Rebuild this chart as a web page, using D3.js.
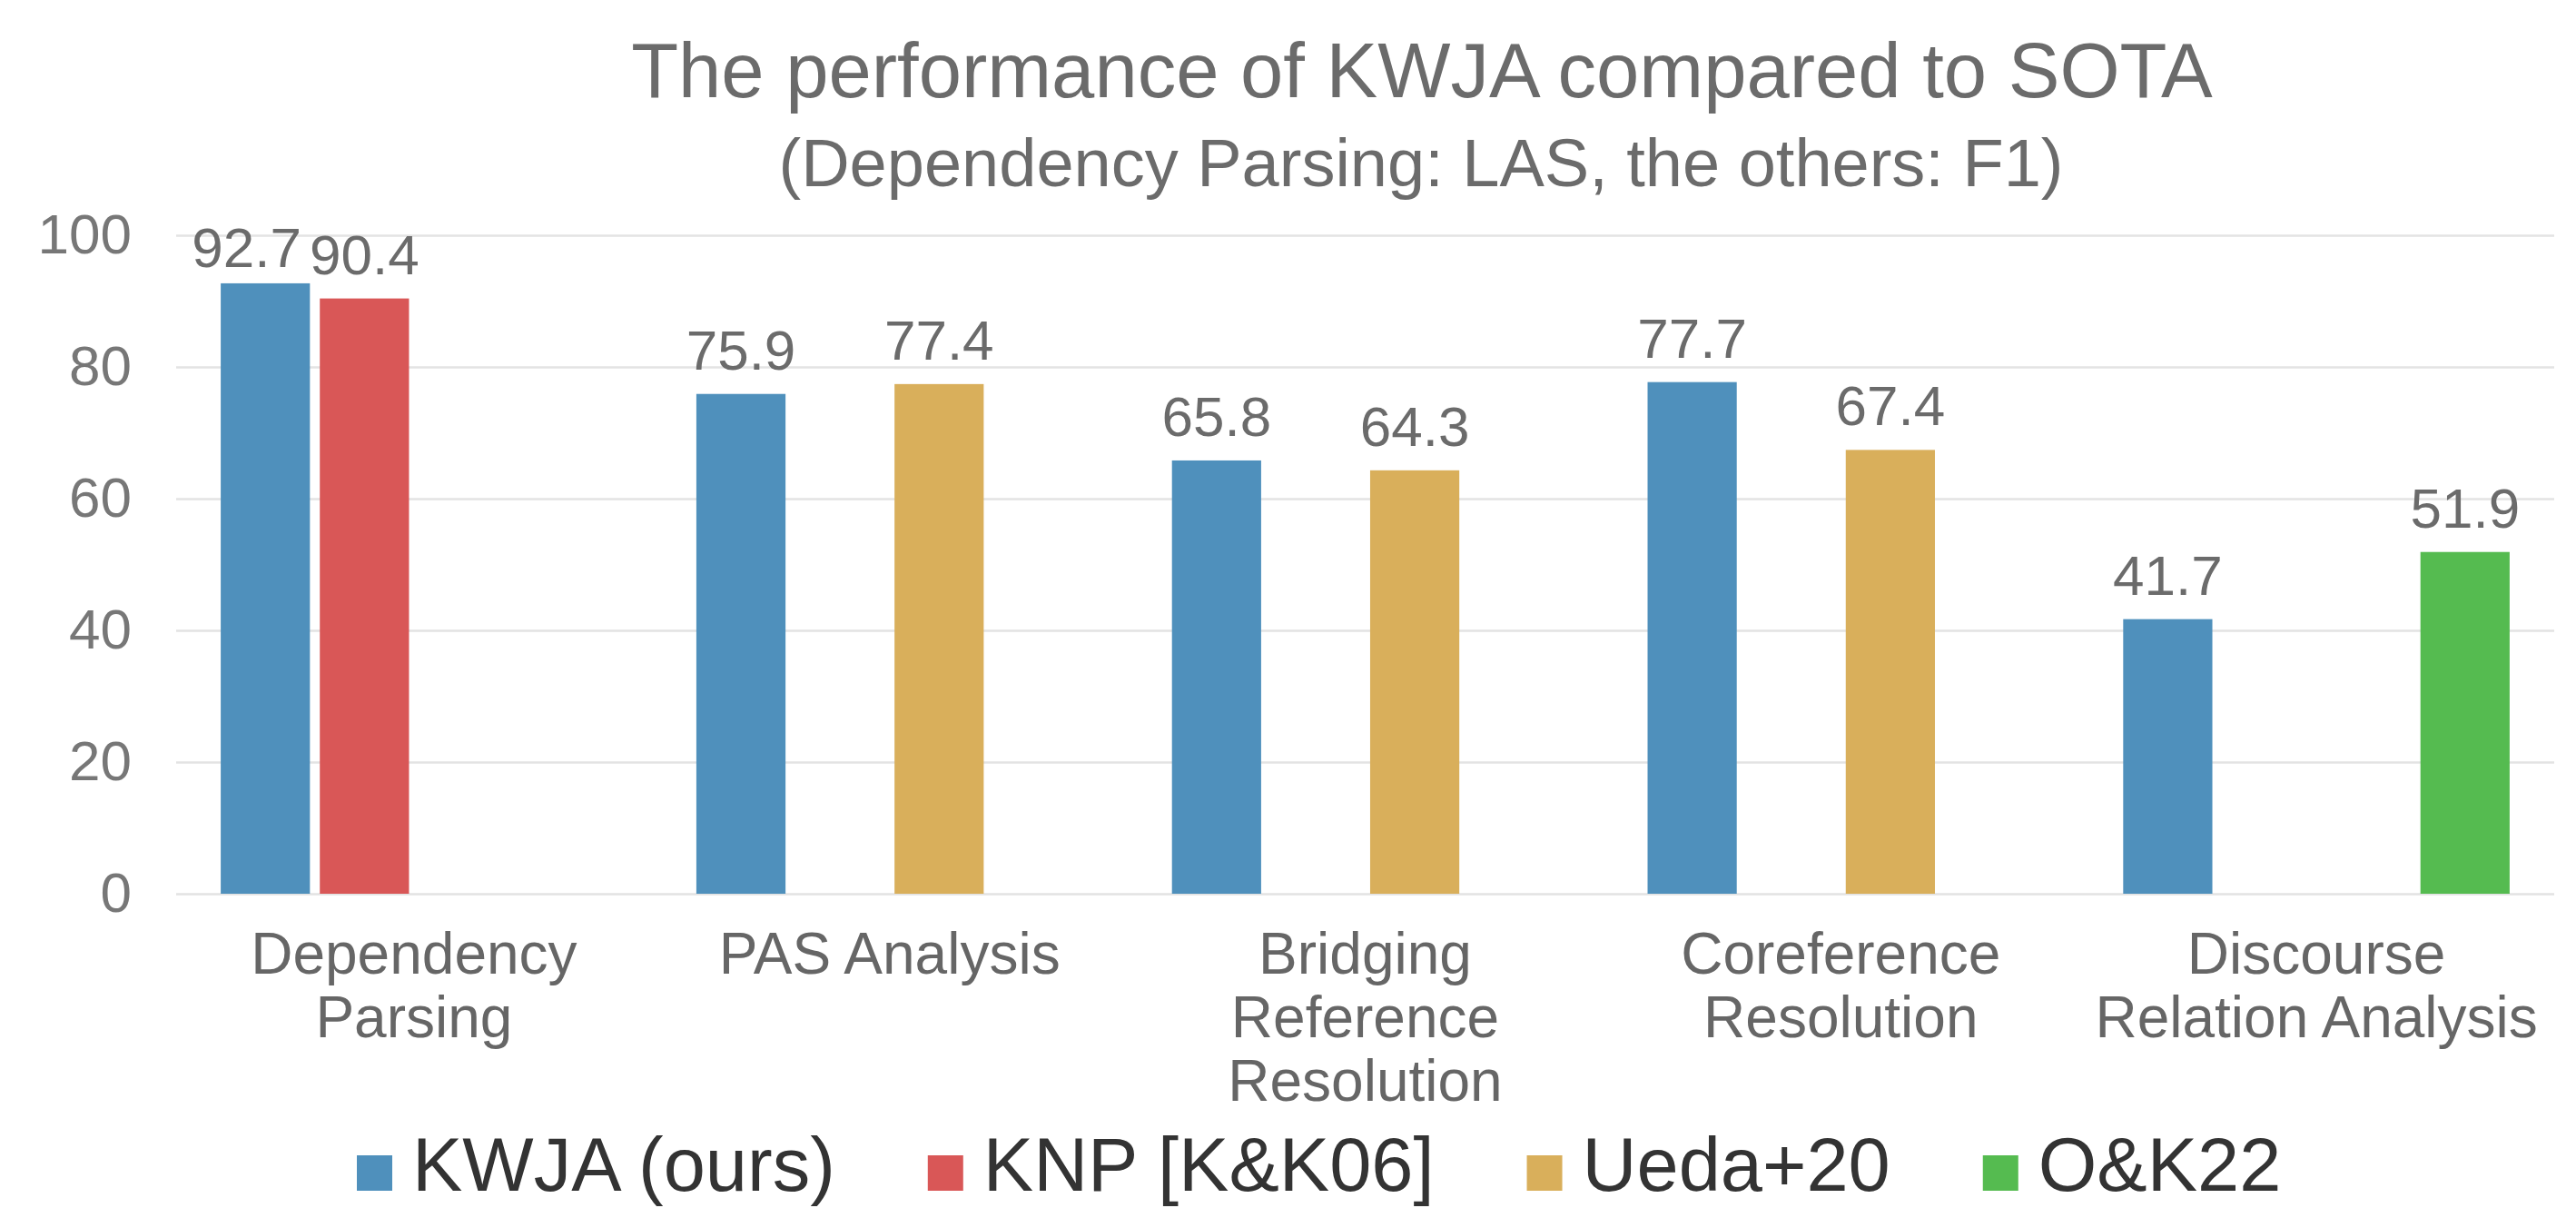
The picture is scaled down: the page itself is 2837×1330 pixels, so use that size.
<!DOCTYPE html>
<html>
<head>
<meta charset="utf-8">
<script src="https://cdn.jsdelivr.net/npm/d3@7"></script>
<style>
  body { margin: 0; background: #fff; }
  text { font-family: "Liberation Sans", Arial, sans-serif; }
</style>
</head>
<body>
<div id="chart"></div>
<script>
// data
var categories = ["Dependency\nParsing", "PAS Analysis", "Bridging\nReference\nResolution", "Coreference\nResolution", "Discourse\nRelation Analysis"];
var seriesNames = ["KWJA (ours)", "KNP [K&K06]", "Ueda+20", "O&K22"];
var kwja = [92.7, 75.9, 65.8, 77.7, 41.7];
var knp = [90.4, null, null, null, null];
var ueda = [null, 77.4, 64.3, 67.4, null];
var ok22 = [null, null, null, null, 51.9];
var yTicks = [0, 20, 40, 60, 80, 100];
var colors = ["#4f90bc", "#d95757", "#d9af5b", "#55bb50"];

var svgWidth = 2837;
var svgHeight = 1330;

var margin = { top: 259, right: 24, bottom: 346, left: 194 };
var width = svgWidth - margin.left - margin.right;
var height = svgHeight - margin.top - margin.bottom;

var svg = d3.select("#chart")
    .append("svg")
    .attr("width", svgWidth)
    .attr("height", svgHeight);

var chartGroup = svg.append("g")
    .attr("transform", `translate(${margin.left}, ${margin.top})`);

var allSeries = [kwja, knp, ueda, ok22];
var rows = [];
categories.forEach(function (c, i) {
    allSeries.forEach(function (s, j) {
        if (s[i] != null) rows.push({ cat: c, series: seriesNames[j], value: s[i], si: j });
    });
});

// scales
var x0 = d3.scaleBand().domain(categories).range([0, width]);
var x1 = d3.scaleBand().domain(seriesNames).range([0, x0.bandwidth()])
    .paddingInner(0.1).paddingOuter(0.45);
var y = d3.scaleLinear().domain([0, 100]).range([height, 0]);

// gridlines + y labels
var leftAxis = d3.axisLeft(y).tickValues(yTicks).tickSize(-width).tickPadding(49);
var yAxis = chartGroup.append("g").call(leftAxis);
yAxis.select(".domain").remove();
yAxis.selectAll("line").attr("stroke", "#e3e3e3").attr("stroke-width", 2.5);
yAxis.selectAll("text")
    .attr("font-size", "62px")
    .attr("fill", "#777777")
    .attr("dy", "0.32em")
    .style("font-family", "'Liberation Sans', Arial, sans-serif");

// bars
chartGroup.selectAll("rect.bar")
    .data(rows)
    .enter()
    .append("rect")
    .attr("class", "bar")
    .attr("x", d => x0(d.cat) + x1(d.series))
    .attr("y", d => y(d.value))
    .attr("width", x1.bandwidth())
    .attr("height", d => height - y(d.value))
    .attr("fill", d => colors[d.si]);

// value labels
var labels = chartGroup.selectAll("text.val")
    .data(rows)
    .enter()
    .append("text")
    .attr("class", "val")
    .attr("text-anchor", "middle")
    .attr("font-size", "62px")
    .attr("fill", "#6b6b6b")
    .attr("x", d => x0(d.cat) + x1(d.series) + x1.bandwidth() / 2)
    .attr("y", d => Math.max(y(d.value) - 27, y(100) + 35))
    .text(d => d.value.toFixed(1));

// push apart labels that collide within a category
var nodes = labels.nodes();
for (var i = 0; i < nodes.length - 1; i++) {
    var a = nodes[i], b = nodes[i + 1];
    if (rows[i].cat !== rows[i + 1].cat) continue;
    var ba = a.getBBox(), bb = b.getBBox();
    var overlap = ba.x + ba.width - bb.x;
    if (overlap > -8) a.setAttribute("x", +a.getAttribute("x") - overlap - 9);
}

// category labels
var bottomAxis = d3.axisBottom(x0).tickSize(0).tickPadding(0);
var xAxis = chartGroup.append("g")
    .attr("transform", `translate(0, ${height})`)
    .call(bottomAxis);
xAxis.select(".domain").remove();
xAxis.selectAll("text").each(function (d) {
    var t = d3.select(this);
    t.text(null)
        .attr("y", 88)
        .attr("dy", null)
        .attr("font-size", "64px")
        .attr("fill", "#666666")
        .style("font-family", "'Liberation Sans', Arial, sans-serif");
    d.split("\n").forEach(function (line, k) {
        t.append("tspan").attr("x", 0).attr("y", 88 + k * 70).text(line);
    });
});

// titles
svg.append("text")
    .attr("x", 1566)
    .attr("y", 107)
    .attr("text-anchor", "middle")
    .attr("font-size", "85px")
    .attr("fill", "#6b6b6b")
    .text("The performance of KWJA compared to SOTA");

svg.append("text")
    .attr("x", 1565)
    .attr("y", 205)
    .attr("text-anchor", "middle")
    .attr("font-size", "74px")
    .attr("fill", "#6b6b6b")
    .text("(Dependency Parsing: LAS, the others: F1)");

// legend
var legend = svg.append("g").attr("transform", "translate(393, 1311)");
var lx = 0;
seriesNames.forEach(function (name, j) {
    legend.append("rect")
        .attr("x", lx)
        .attr("y", -39)
        .attr("width", 39)
        .attr("height", 39)
        .attr("fill", colors[j]);
    var t = legend.append("text")
        .attr("x", lx + 61)
        .attr("y", 0)
        .attr("font-size", "83px")
        .attr("fill", "#333333")
        .text(name);
    lx += 61 + t.node().getComputedTextLength() + 102;
});
</script>
</body>
</html>
